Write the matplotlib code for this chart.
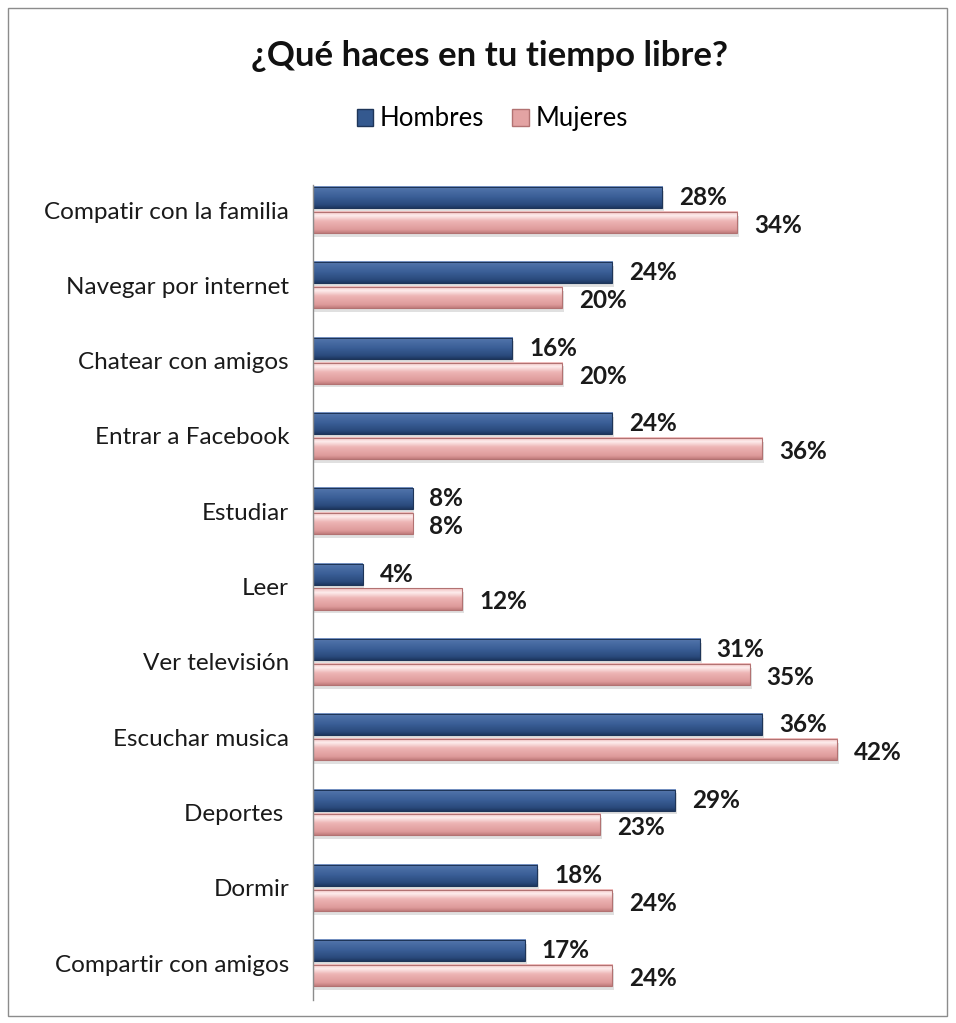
import matplotlib
matplotlib.use("Agg")
import matplotlib.pyplot as plt
import matplotlib.patches as mpatches
from matplotlib.colors import LinearSegmentedColormap
import numpy as np

plt.rcParams["font.family"] = ["Lato", "DejaVu Sans"]

categories = [
    "Compatir con la familia",
    "Navegar por internet",
    "Chatear con amigos",
    "Entrar a Facebook",
    "Estudiar",
    "Leer",
    "Ver televisión",
    "Escuchar musica",
    "Deportes ",
    "Dormir",
    "Compartir con amigos",
]
hombres = [28, 24, 16, 24, 8, 4, 31, 36, 29, 18, 17]
mujeres = [34, 20, 20, 36, 8, 12, 35, 42, 23, 24, 24]

blue = "#34598F"
blue_edge = "#1E3558"
pink = "#E3A3A3"
pink_edge = "#B27272"

blue_cmap = LinearSegmentedColormap.from_list(
    "b", [(0, "#7F9CCB"), (0.12, "#4E71A8"), (0.5, "#3A5E96"), (0.85, "#2A4A7C"), (1, "#1E3760")])
pink_cmap = LinearSegmentedColormap.from_list(
    "p", [(0, "#F2BDBD"), (0.2, "#FDEDED"), (0.45, "#EDB5B5"), (0.85, "#DE9A9A"), (1, "#C07C7C")])

fig = plt.figure(figsize=(9.56, 10.23), dpi=100)
ax = fig.add_axes([0.327, 0.0225, 0.614, 0.7965])

y = np.arange(len(categories))
off = 0.165
h = 0.28
grad = np.linspace(0, 1, 64).reshape(-1, 1)


def draw_bars(ypos, vals, cmap, edge):
    for yc, v in zip(ypos, vals):
        # soft shadow
        ax.add_patch(mpatches.Rectangle((0.15, yc - h / 2 + 0.05), v, h, color="black",
                                        alpha=0.12, lw=0, zorder=1))
        ax.imshow(grad, cmap=cmap, aspect="auto", origin="upper",
                  extent=[0, v, yc + h / 2, yc - h / 2], zorder=2, interpolation="bilinear")
        ax.add_patch(mpatches.Rectangle((0, yc - h / 2), v, h, fill=False,
                                        edgecolor=edge, lw=0.8, zorder=3))


draw_bars(y - off, hombres, blue_cmap, blue_edge)
draw_bars(y + off, mujeres, pink_cmap, pink_edge)

for i in range(len(categories)):
    ax.text(hombres[i] + 1.35, y[i] - off + 0.0, f"{hombres[i]}%", va="center", ha="left",
            fontsize=17.5, fontweight="bold", color="#1a1a1a")
    ax.text(mujeres[i] + 1.35, y[i] + off + 0.04, f"{mujeres[i]}%", va="center", ha="left",
            fontsize=17.5, fontweight="bold", color="#1a1a1a")

ax.set_xlim(0, 47)
ax.set_ylim(10.49, -0.33)
ax.set_yticks(y)
ax.set_yticklabels(categories, fontsize=17.5, color="#1a1a1a")
ax.tick_params(axis="y", length=0, pad=17)
ax.set_xticks([])
for s in ["top", "right", "bottom"]:
    ax.spines[s].set_visible(False)
ax.spines["left"].set_color("#8c8c8c")
ax.spines["left"].set_linewidth(1.0)
ax.spines["left"].set_zorder(5)

fig.text(0.512, 0.945, "¿Qué haces en tu tiempo libre?", ha="center", va="center",
         fontsize=25, fontweight="bold", color="#111111")

handles = [
    mpatches.Patch(facecolor=blue, edgecolor=blue_edge, label="Hombres"),
    mpatches.Patch(facecolor=pink, edgecolor=pink_edge, label="Mujeres"),
]
fig.legend(handles=handles, loc="center", bbox_to_anchor=(0.515, 0.884), ncol=2,
           frameon=False, fontsize=18.5, handlelength=0.65, handleheight=0.65,
           handletextpad=0.25, columnspacing=1.1)

border = mpatches.Rectangle((0.008, 0.007), 0.983, 0.985, transform=fig.transFigure,
                            fill=False, edgecolor="#8c8c8c", linewidth=1.0)
fig.patches.append(border)

fig.savefig("out.png", dpi=100, facecolor="white")
